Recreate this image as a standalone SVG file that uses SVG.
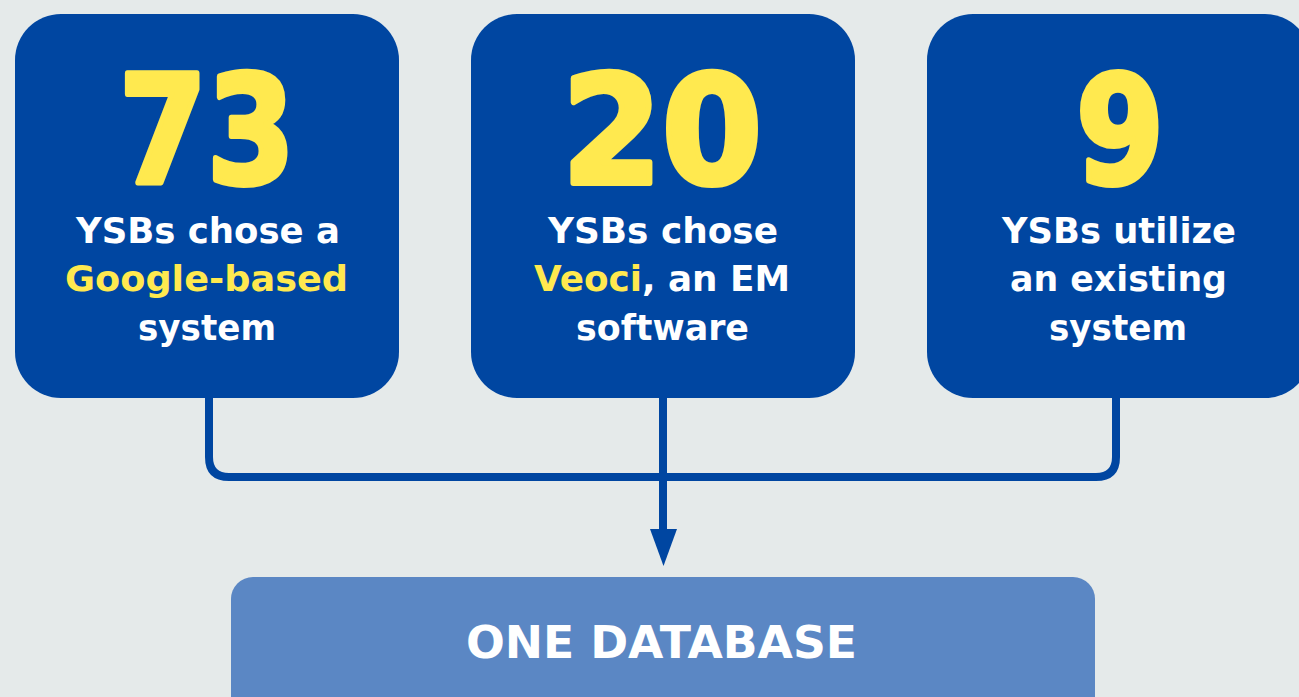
<svg xmlns="http://www.w3.org/2000/svg" width="1299" height="697" viewBox="0 0 1299 697">
<style>
.box{fill:#0046a1}
.num{font-family:"DejaVu Sans","Open Sans",sans-serif;font-weight:700;font-size:150px;fill:#ffe94f;stroke:#ffe94f;stroke-width:6;stroke-linejoin:round;text-anchor:middle}
.lbl{font-family:"DejaVu Sans","Open Sans",sans-serif;font-weight:700;font-size:36px;fill:#ffffff;text-anchor:middle}
.hl{fill:#ffe94f}
.conn{fill:none;stroke:#0046a1;stroke-width:8}
.db{fill:#5b87c4}
.dbt{font-family:"DejaVu Sans","Open Sans",sans-serif;font-weight:700;font-size:44px;fill:#ffffff;text-anchor:middle}
</style>
<rect width="1299" height="697" fill="#e5eaea"/>
<g id="connectors">
<path class="conn" d="M209,398 V457 Q209,477 229,477 H1096 Q1116,477 1116,457 V398"/>
<path class="conn" d="M663,398 V530"/>
<path d="M650,529 L677,529 L663.5,566 Z" fill="#0046a1"/>
</g>
<g id="node-google">
<rect class="box" x="15" y="14" width="384" height="384" rx="46"/>
<text class="num" x="207" y="183" textLength="176" lengthAdjust="spacingAndGlyphs">73</text>
<text class="lbl" x="208" y="243" textLength="264" lengthAdjust="spacingAndGlyphs">YSBs chose a</text>
<text class="lbl hl" x="206.5" y="291" textLength="283" lengthAdjust="spacingAndGlyphs">Google-based</text>
<text class="lbl" x="207" y="340" textLength="138" lengthAdjust="spacingAndGlyphs">system</text>
</g>
<g id="node-veoci">
<rect class="box" x="471" y="14" width="384" height="384" rx="46"/>
<text class="num" x="662" y="183" textLength="200" lengthAdjust="spacingAndGlyphs">20</text>
<text class="lbl" x="663" y="243" textLength="230" lengthAdjust="spacingAndGlyphs">YSBs chose</text>
<text class="lbl" x="662" y="291" textLength="256" lengthAdjust="spacingAndGlyphs"><tspan class="hl">Veoci</tspan>, an EM</text>
<text class="lbl" x="662.5" y="340" textLength="173" lengthAdjust="spacingAndGlyphs">software</text>
</g>
<g id="node-existing">
<rect class="box" x="927" y="14" width="384" height="384" rx="46"/>
<text class="num" x="1120" y="183" textLength="88" lengthAdjust="spacingAndGlyphs">9</text>
<text class="lbl" x="1119" y="243" textLength="234" lengthAdjust="spacingAndGlyphs">YSBs utilize</text>
<text class="lbl" x="1118.5" y="291" textLength="217" lengthAdjust="spacingAndGlyphs">an existing</text>
<text class="lbl" x="1118" y="340" textLength="138" lengthAdjust="spacingAndGlyphs">system</text>
</g>
<g id="node-database">
<rect class="db" x="231" y="577" width="864" height="160" rx="22"/>
<text class="dbt" x="661.5" y="658" textLength="391" lengthAdjust="spacingAndGlyphs">ONE DATABASE</text>
</g>
</svg>
